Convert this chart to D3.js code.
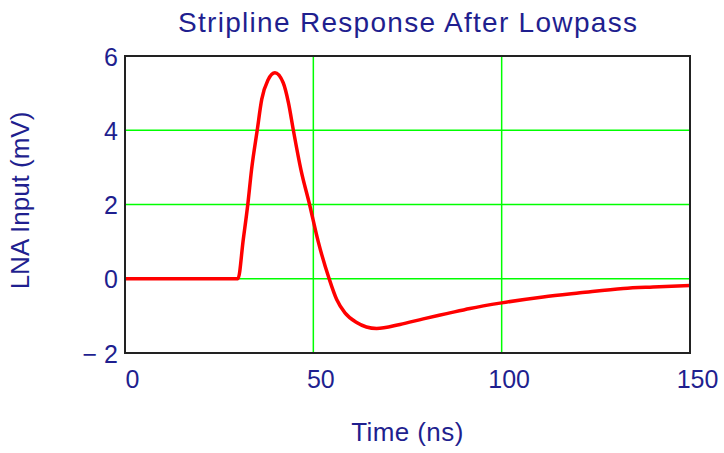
<!DOCTYPE html>
<html>
<head>
<meta charset="utf-8">
<script src="https://cdn.jsdelivr.net/npm/d3@7.9.0/dist/d3.min.js"></script>
<style>
    html, body { margin: 0; padding: 0; background: #fff; }
    svg { display: block; font-family: "Liberation Sans", Arial, sans-serif; }
</style>
</head>
<body>
<svg id="chart" width="724" height="453"></svg>
<script>
// Data
const timeNs = [0, 30, 31.4, 32.6, 33.6, 35.1, 36.3, 38.0, 39.8, 42.0, 43.4, 44.7, 46.7, 49.0, 51.3, 54.2,
    56.2, 58.4, 61.5, 64.1, 66.8, 73.0, 79.2, 85.4, 91.6, 100, 111, 120.8, 132.3, 140.2, 150];
const lnaInput = [0, 0, 1.06, 2.0, 2.94, 4.0, 4.83, 5.36, 5.55, 5.28, 4.74, 4.0, 2.94, 2.0, 1.0, 0,
    -0.56, -0.92, -1.18, -1.30, -1.34, -1.23, -1.08, -0.94, -0.80, -0.65, -0.49, -0.38, -0.26, -0.22, -0.18];
const xTicks = [0, 50, 100, 150];
const yTicks = [-2, 0, 2, 4, 6];

const textColor = "#1f1f8f";
const svg = d3.select("#chart");

// plot area
const plotLeft = 125, plotRight = 690, plotTop = 56, plotBottom = 353;

const x = d3.scaleLinear().domain([0, 150]).range([plotLeft, plotRight]);
const y = d3.scaleLinear().domain([-2, 6]).range([plotBottom, plotTop]);

// grid lines
svg.append("g")
    .selectAll("line")
    .data(xTicks.slice(1, -1))
    .join("line")
    .attr("x1", d => x(d)).attr("x2", d => x(d))
    .attr("y1", plotTop).attr("y2", plotBottom)
    .attr("stroke", "#00ff00")
    .attr("stroke-width", 1.5);

svg.append("g")
    .selectAll("line")
    .data(yTicks.slice(1, -1))
    .join("line")
    .attr("x1", plotLeft).attr("x2", plotRight)
    .attr("y1", d => y(d)).attr("y2", d => y(d))
    .attr("stroke", "#00ff00")
    .attr("stroke-width", 1.5);

// response curve
const pts = timeNs.map((t, i) => [t, lnaInput[i]]);
const line = d3.line()
    .x(d => x(d[0]))
    .y(d => y(d[1]))
    .curve(d3.curveMonotoneX);

svg.append("path")
    .datum(pts)
    .attr("d", line)
    .attr("fill", "none")
    .attr("stroke", "#ff0000")
    .attr("stroke-width", 3.5)
    .attr("stroke-linejoin", "round");

// frame
svg.append("rect")
    .attr("x", plotLeft).attr("y", plotTop)
    .attr("width", plotRight - plotLeft).attr("height", plotBottom - plotTop)
    .attr("fill", "none")
    .attr("stroke", "#222")
    .attr("stroke-width", 2);

// axes (labels only, frame drawn above)
const xAxis = d3.axisBottom(x).tickValues(xTicks).tickSize(0).tickPadding(0);
const xAxisG = svg.append("g")
    .attr("transform", `translate(7, ${plotBottom})`)
    .call(xAxis);
xAxisG.select(".domain").remove();
xAxisG.selectAll("text")
    .attr("y", 35)
    .attr("dy", 0)
    .attr("fill", textColor)
    .style("font-size", "25px");

const yAxis = d3.axisLeft(y).tickValues(yTicks).tickSize(0).tickPadding(0)
    .tickFormat(d => d < 0 ? "\u2212 " + Math.abs(d) : d);
const yAxisG = svg.append("g")
    .attr("transform", `translate(${plotLeft - 7}, 0)`)
    .call(yAxis);
yAxisG.select(".domain").remove();
yAxisG.selectAll("text")
    .attr("x", 0)
    .attr("dy", "0.36em")
    .attr("fill", textColor)
    .style("font-size", "25px");

// title and axis titles
svg.append("text")
    .attr("x", (plotLeft + plotRight) / 2 + 0.6)
    .attr("y", 32)
    .attr("text-anchor", "middle")
    .attr("fill", textColor)
    .style("font-size", "28px")
    .style("letter-spacing", "1.3px")
    .text("Stripline Response After Lowpass");

svg.append("text")
    .attr("x", (plotLeft + plotRight) / 2)
    .attr("y", 441)
    .attr("text-anchor", "middle")
    .attr("fill", textColor)
    .style("font-size", "26px")
    .style("letter-spacing", "0.4px")
    .text("Time (ns)");

svg.append("text")
    .attr("transform", `translate(29, ${(plotTop + plotBottom) / 2 - 4}) rotate(-90)`)
    .attr("text-anchor", "middle")
    .attr("fill", textColor)
    .style("font-size", "26px")
    .text("LNA Input (mV)");
</script>
</body>
</html>
